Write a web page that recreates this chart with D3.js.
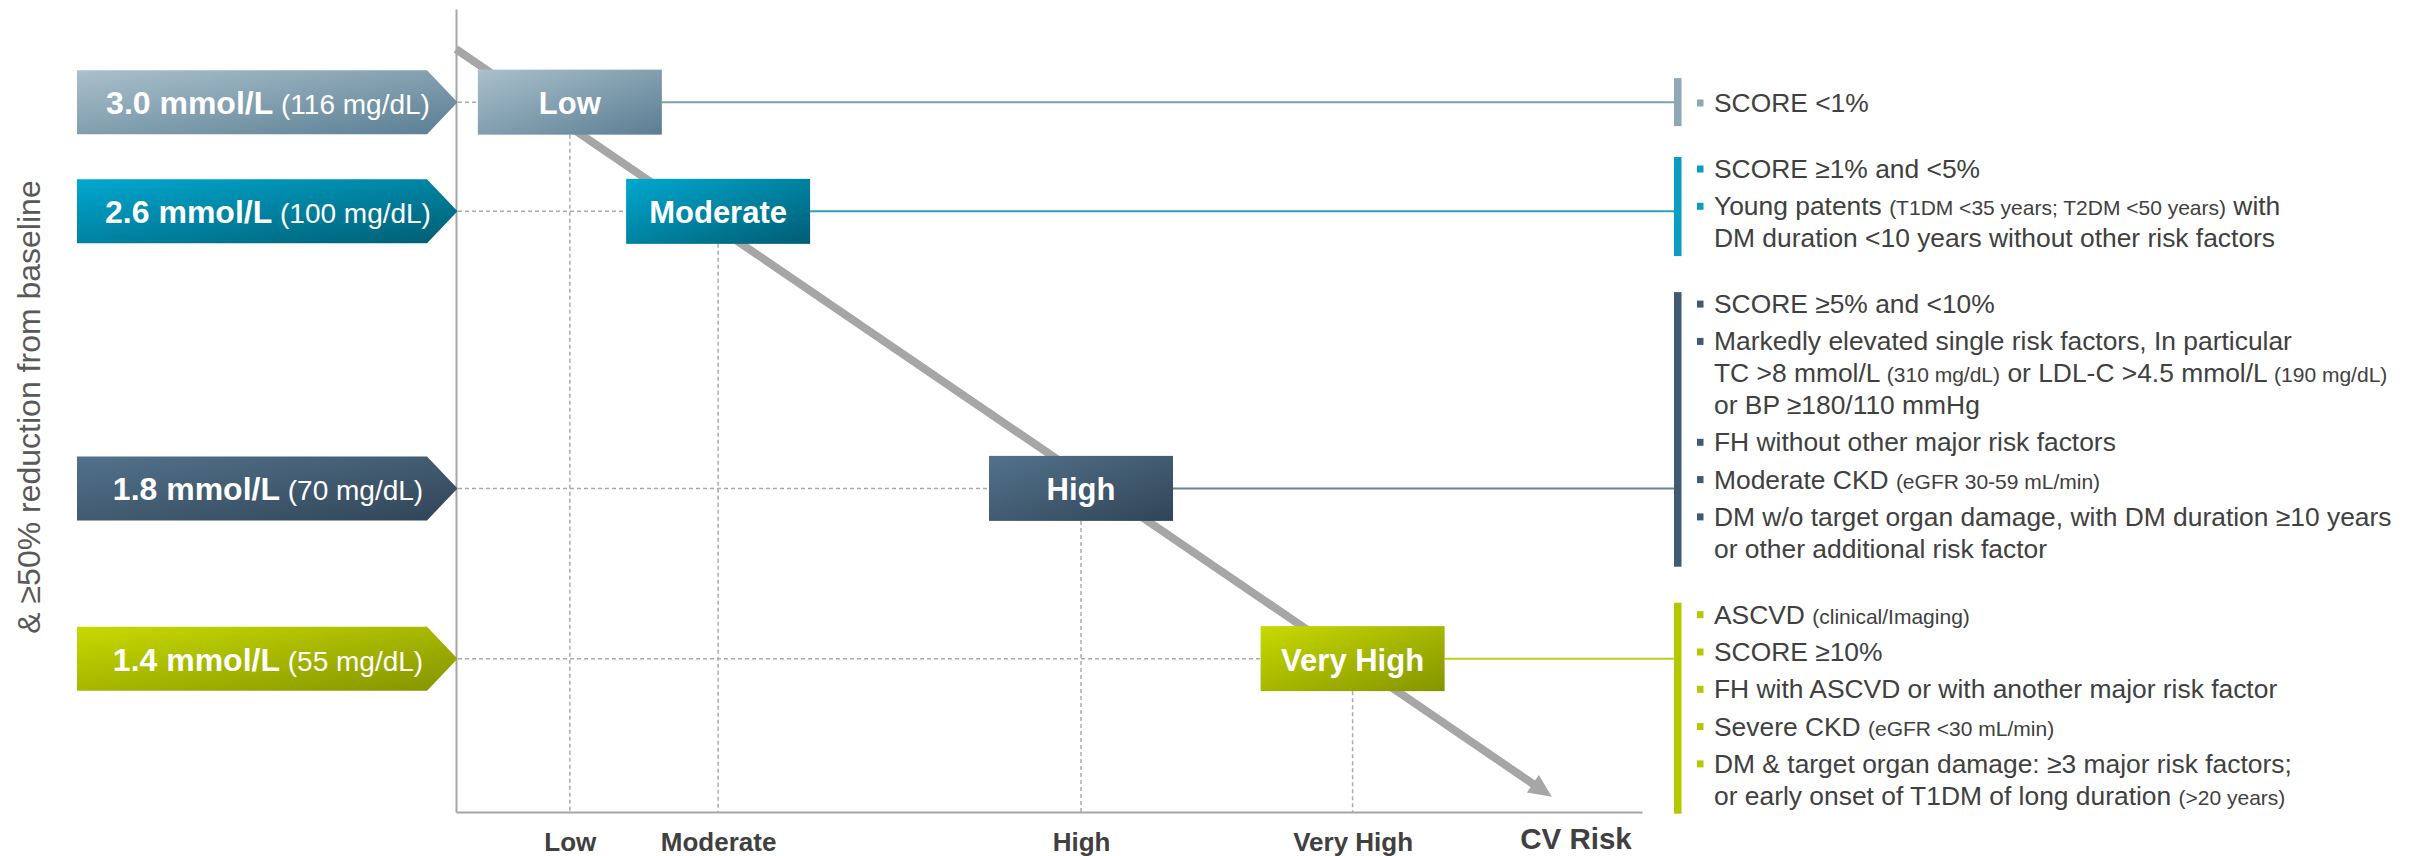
<!DOCTYPE html>
<html>
<head>
<meta charset="utf-8">
<script src="https://cdn.jsdelivr.net/npm/d3@7"></script>
<style>
  html, body { margin: 0; padding: 0; background: #ffffff; }
  svg { display: block; font-family: "Liberation Sans", Arial, Helvetica, sans-serif; }
  text { white-space: pre; }
</style>
</head>
<body>
<script>
// LDL-C treatment goals by cardiovascular risk category
const riskLevels   = ["Low", "Moderate", "High", "Very High"];
const riskPosition = [9.6, 22.1, 52.7, 75.6];   // place on the CV-risk axis (0–100)
const goalPosition = [88.4, 74.8, 40.3, 19.1];  // place on the LDL-C goal axis (0–100)
const ldlGoalMmol  = [3.0, 2.6, 1.8, 1.4];
const ldlGoalMgdl  = [116, 100, 70, 55];
const trendFrom    = [0, 95];                   // risk trend arrow, [risk, goal]
const trendTo      = [92.4, 1.9];
const yAxisTitle   = "& ≥50% reduction from baseline";
const xAxisTitle   = "CV Risk";

// Criteria per risk level; {…} marks the smaller parenthetical text
const riskCriteria = [
  [["SCORE <1%"]],
  [["SCORE ≥1% and <5%"],
   ["Young patents {(T1DM <35 years; T2DM <50 years)} with",
    "DM duration <10 years without other risk factors"]],
  [["SCORE ≥5% and <10%"],
   ["Markedly elevated single risk factors, In particular",
    "TC >8 mmol/L {(310 mg/dL)} or LDL-C >4.5 mmol/L {(190 mg/dL)}",
    "or BP ≥180/110 mmHg"],
   ["FH without other major risk factors"],
   ["Moderate CKD {(eGFR 30-59 mL/min)}"],
   ["DM w/o target organ damage, with DM duration ≥10 years",
    "or other additional risk factor"]],
  [["ASCVD {(clinical/Imaging)}"],
   ["SCORE ≥10%"],
   ["FH with ASCVD or with another major risk factor"],
   ["Severe CKD {(eGFR <30 mL/min)}"],
   ["DM & target organ damage: ≥3 major risk factors;",
    "or early onset of T1DM of long duration {(>20 years)}"]]
];

// Colour per risk level: gradient light/dark, bracket, connector
const gradLight = ["#aac0cc", "#00a8d0", "#52728b", "#c8da00"];
const gradDark  = ["#5a7e93", "#005d72", "#314457", "#849400"];
const bracketCol = ["#8ea8b8", "#0a9dc2", "#3f5b71", "#b4c800"];
const connectCol = ["#7f9fae", "#2a9fbf", "#6a8496", "#bcd21a"];

const W = 2420, H = 856;
const svg = d3.select("body").append("svg").attr("width", W).attr("height", H);

const x = d3.scaleLinear().domain([0, 100]).range([456, 1642]);
const y = d3.scaleLinear().domain([0, 100]).range([812, 9]);

const defs = svg.append("defs");
riskLevels.forEach((r, i) => {
  const g = defs.append("linearGradient").attr("id", "grad" + i)
    .attr("x1", 0).attr("y1", 0).attr("x2", 1).attr("y2", 1);
  g.append("stop").attr("offset", "0%").attr("stop-color", gradLight[i]);
  g.append("stop").attr("offset", "100%").attr("stop-color", gradDark[i]);
});

const rows = riskLevels.map((r, i) => ({
  i, level: r, rx: x(riskPosition[i]), gy: y(goalPosition[i]),
  mmol: ldlGoalMmol[i], mgdl: ldlGoalMgdl[i]
}));

const boxW = 184, boxH = 65;
const gray = "#a6a6a6";

// Dashed guides from the goal arrows and down to the risk axis
const guides = svg.append("g").attr("stroke", "#ababab").attr("stroke-width", 1.5)
  .attr("stroke-dasharray", "4,3").attr("fill", "none");
guides.selectAll("line.h").data(rows).join("line").attr("class", "h")
  .attr("x1", x(0) + 2).attr("x2", d => d.rx - boxW / 2)
  .attr("y1", d => d.gy).attr("y2", d => d.gy);
guides.selectAll("line.v").data(rows).join("line").attr("class", "v")
  .attr("x1", d => d.rx).attr("x2", d => d.rx)
  .attr("y1", d => d.gy + boxH / 2).attr("y2", y(0));

// Axes
const xAxis = svg.append("g").attr("transform", `translate(0,${y(0)})`)
  .call(d3.axisBottom(x).tickValues(riskPosition)
    .tickFormat((d, i) => riskLevels[i]).tickSize(0).tickSizeOuter(0).tickPadding(20.5));
xAxis.select(".domain").attr("stroke", gray).attr("stroke-width", 2);
xAxis.selectAll("text").attr("font-family", "Liberation Sans, Arial, sans-serif")
  .attr("font-size", 26).attr("font-weight", "bold").attr("fill", "#404040");

const yAxis = svg.append("g").attr("transform", `translate(${x(0)},0)`)
  .call(d3.axisLeft(y).tickValues([]).tickSizeOuter(0));
yAxis.select(".domain").attr("stroke", gray).attr("stroke-width", 2);

svg.append("text").attr("x", 1576).attr("y", 849).attr("text-anchor", "middle")
  .attr("font-size", 29.5).attr("font-weight", "bold").attr("fill", "#404040").text(xAxisTitle);

svg.append("text").attr("transform", "translate(40,407) rotate(-90)")
  .attr("text-anchor", "middle").attr("font-size", 32).attr("fill", "#595959").text(yAxisTitle);

// Risk trend arrow
const p0 = [x(trendFrom[0]), y(trendFrom[1])], p1 = [x(trendTo[0]), y(trendTo[1])];
const len = Math.hypot(p1[0] - p0[0], p1[1] - p0[1]);
const ux = (p1[0] - p0[0]) / len, uy = (p1[1] - p0[1]) / len;
const headL = 23, headW = 10.5;
const base = [p1[0] - ux * headL, p1[1] - uy * headL];
svg.append("line").attr("x1", p0[0]).attr("y1", p0[1]).attr("x2", base[0] + ux).attr("y2", base[1] + uy)
  .attr("stroke", gray).attr("stroke-width", 8);
svg.append("path").attr("fill", gray).attr("d",
  `M${p1[0]},${p1[1]} L${base[0] - uy * headW},${base[1] + ux * headW} L${base[0] + uy * headW},${base[1] - ux * headW} Z`);

// Criteria column on the right
const colX = 1714, bracketX = 1674, bracketWd = 7.5;
const startBase = 112, groupGap = 66, bulletGap = 37.3, wrapGap = 31.8;
const right = svg.append("g");
let base_y = startBase;
const groupExtents = [];
riskCriteria.forEach((bullets, gi) => {
  if (gi > 0) base_y += groupGap;
  const first = base_y;
  bullets.forEach((lines, bi) => {
    if (bi > 0) base_y += bulletGap;
    right.append("rect").attr("x", 1697).attr("y", base_y - 12.5).attr("width", 6.5).attr("height", 7)
      .attr("fill", bracketCol[gi]);
    lines.forEach((ln, li) => {
      if (li > 0) base_y += wrapGap;
      const t = right.append("text").attr("x", colX).attr("y", base_y).attr("fill", "#404040").attr("font-size", 26.4);
      ln.split(/(\{[^}]*\})/).filter(s => s.length).forEach(seg => {
        const small = seg.startsWith("{");
        t.append("tspan").attr("font-size", small ? 21 : 26.4).text(small ? seg.slice(1, -1) : seg);
      });
    });
  });
  groupExtents.push([first, base_y]);
});

// Connectors and brackets
rows.forEach(d => {
  const [f, l] = groupExtents[d.i];
  const top = Math.min(f - 21, d.gy - 24), bot = Math.max(l + 9, d.gy + 24);
  svg.append("line").attr("x1", d.rx + boxW / 2).attr("x2", bracketX)
    .attr("y1", d.gy).attr("y2", d.gy).attr("stroke", connectCol[d.i]).attr("stroke-width", 2);
  svg.append("rect").attr("x", bracketX).attr("y", top).attr("width", bracketWd).attr("height", bot - top)
    .attr("fill", bracketCol[d.i]);
});

// Risk level boxes
const boxes = svg.append("g").selectAll("g").data(rows).join("g");
boxes.append("rect").attr("x", d => d.rx - boxW / 2).attr("y", d => d.gy - boxH / 2)
  .attr("width", boxW).attr("height", boxH).attr("fill", d => `url(#grad${d.i})`);
boxes.append("text").attr("x", d => d.rx).attr("y", d => d.gy + 12).attr("text-anchor", "middle")
  .attr("font-size", 31).attr("font-weight", "bold").attr("fill", "#ffffff").text(d => d.level);

// LDL-C goal arrows
const arrL = 77, arrBody = 350, arrH = 64;
const tipX = x(0) + 1.5;
const arrows = svg.append("g").selectAll("g").data(rows).join("g");
arrows.append("path").attr("fill", d => `url(#grad${d.i})`).attr("d", d =>
  `M${arrL},${d.gy - arrH / 2} H${arrL + arrBody} L${tipX},${d.gy} L${arrL + arrBody},${d.gy + arrH / 2} H${arrL} Z`);
const at = arrows.append("text").attr("x", 268).attr("y", d => d.gy + 12)
  .attr("text-anchor", "middle").attr("fill", "#ffffff");
at.append("tspan").attr("font-size", 32).attr("font-weight", "bold").text(d => d.mmol.toFixed(1) + " mmol/L");
at.append("tspan").attr("font-size", 28).text(d => ` (${d.mgdl} mg/dL)`);
</script>
</body>
</html>
